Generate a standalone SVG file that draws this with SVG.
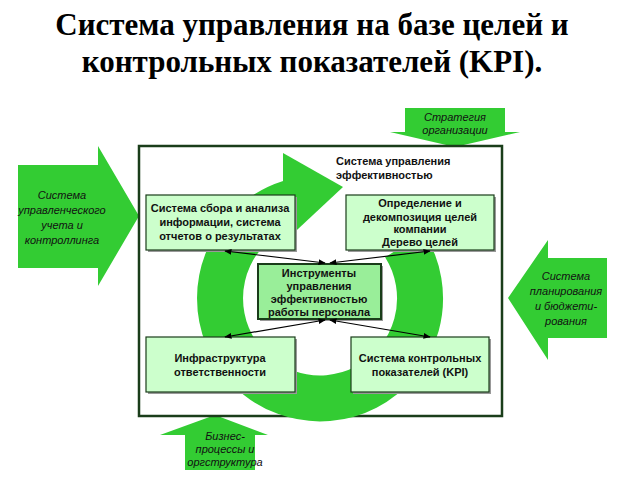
<svg xmlns="http://www.w3.org/2000/svg" width="625" height="479" viewBox="0 0 625 479">
<style>
.t{font-family:"Liberation Serif",serif;font-weight:bold;font-size:31px;text-anchor:middle}
.b{fill:#ccffcc;stroke:#1a3d1a;stroke-width:1.2}
.s{fill:#999}
.l{font-family:"Liberation Sans",Arial,sans-serif;font-weight:bold;font-size:11px;text-anchor:middle;fill:#111}
.i{font-family:"Liberation Sans",Arial,sans-serif;font-style:italic;font-size:11px;text-anchor:middle;fill:#111}
.g{fill:#33cc33}
.c{stroke:#000;stroke-width:1.2;fill:none;marker-start:url(#a);marker-end:url(#a)}
</style>
<defs><marker id="a" viewBox="0 0 10 10" refX="9" refY="5" markerWidth="6" markerHeight="6" orient="auto-start-reverse"><path d="M0,1 L10,5 L0,9 z" fill="#000"/></marker></defs>
<rect width="625" height="479" fill="#fff"/>
<text class="t" x="312" y="35">Система управления на базе целей и</text>
<text class="t" x="312" y="72">контрольных показателей (KPI).</text>
<g id="arrow-left"><polygon class="g" points="18,165 98,165 98,146 139,216 98,286 98,268 18,268"/>
<text class="i"><tspan x="62" y="199">Система</tspan><tspan x="62" y="214">управленческого</tspan><tspan x="62" y="229">учета и</tspan><tspan x="62" y="244">контроллинга</tspan></text></g>
<g id="arrow-right"><polygon class="g" points="607,258 548,258 548,240 508,298 548,360 548,338 607,338"/>
<text class="i"><tspan x="566" y="280">Система</tspan><tspan x="566" y="295">планирования</tspan><tspan x="566" y="310">и бюджети-</tspan><tspan x="566" y="325">рования</tspan></text></g>
<g id="arrow-top"><polygon class="g" points="405,108 505,108 505,132 520,132 455,147 390,132 405,132"/>
<text class="i"><tspan x="455" y="121">Стратегия</tspan><tspan x="455" y="134">организации</tspan></text></g>
<g id="arrow-bottom"><polygon class="g" points="185,470 255,470 255,435 268,435 215,415 160,435 185,435"/>
<text class="i"><tspan x="225" y="440">Бизнес-</tspan><tspan x="225" y="453">процессы и</tspan><tspan x="225" y="466">оргструктура</tspan></text></g>
<g id="frame"><rect x="139" y="146" width="363" height="270" fill="#fff" stroke="#1a3d1a" stroke-width="2.5"/></g>
<g id="cycle"><path d="M290 203 A100 100 0 1 0 404.6 245" fill="none" stroke="#33cc33" stroke-width="46"/>
<polygon class="g" points="283,153 283,243 343,187"/></g>
<text class="l" style="text-anchor:start"><tspan x="336" y="165">Система управления</tspan><tspan x="336" y="179">эффективностью</tspan></text>
<g id="n1"><rect class="s" x="148" y="197" width="149" height="55"/><rect class="b" x="146" y="195" width="149" height="55"/>
<text class="l"><tspan x="220" y="212">Система сбора и анализа</tspan><tspan x="220" y="226">информации, система</tspan><tspan x="220" y="240">отчетов о результатах</tspan></text></g>
<g id="n2"><rect class="s" x="348" y="197" width="148" height="55"/><rect class="b" x="346" y="195" width="148" height="55"/>
<text class="l"><tspan x="420" y="207">Определение и</tspan><tspan x="420" y="221">декомпозиция целей</tspan><tspan x="420" y="233">компании</tspan><tspan x="420" y="246">Дерево целей</tspan></text></g>
<g id="n3"><rect class="s" x="260" y="266" width="123" height="55"/><rect x="258" y="264" width="123" height="55" fill="#99ee99" stroke="#1a3d1a" stroke-width="2"/>
<text class="l"><tspan x="319" y="277">Инструменты</tspan><tspan x="319" y="290">управления</tspan><tspan x="319" y="303">эффективностью</tspan><tspan x="319" y="316">работы персонала</tspan></text></g>
<g id="n4"><rect class="s" x="148" y="339" width="149" height="55"/><rect class="b" x="146" y="337" width="149" height="55"/>
<text class="l"><tspan x="220" y="362">Инфраструктура</tspan><tspan x="220" y="376">ответственности</tspan></text></g>
<g id="n5"><rect class="s" x="353" y="339" width="138" height="55"/><rect class="b" x="351" y="337" width="138" height="55"/>
<text class="l"><tspan x="420" y="362">Система контрольных</tspan><tspan x="420" y="376">показателей (KPI)</tspan></text></g>
<g id="connectors">
<line class="c" x1="225" y1="251" x2="325" y2="263"/>
<line class="c" x1="430" y1="251" x2="330" y2="263"/>
<line class="c" x1="325" y1="320" x2="225" y2="337"/>
<line class="c" x1="330" y1="320" x2="430" y2="337"/>
</g>
</svg>
